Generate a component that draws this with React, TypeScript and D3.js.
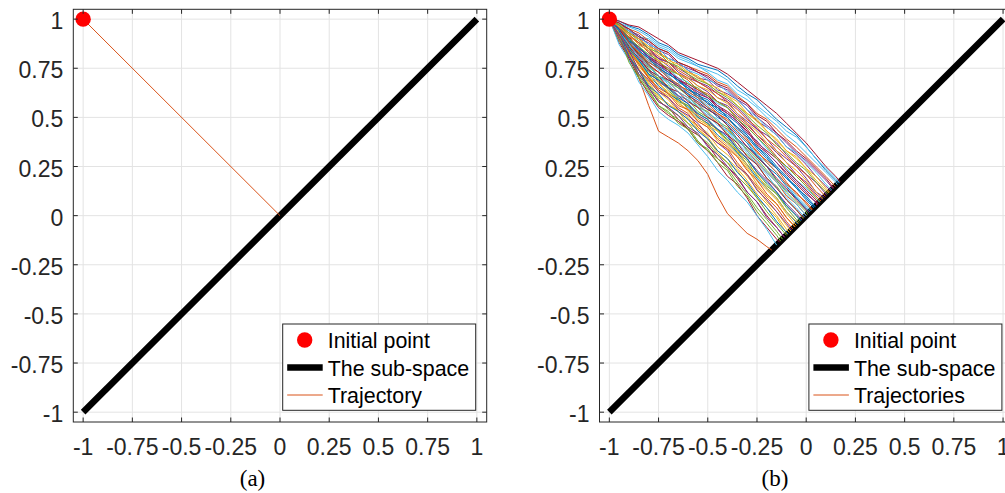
import React from 'react';
import * as d3 from 'd3';

const W = 1005;
const H = 493;

const axisDomain = [-1.05, 1.05];
const tickValues = [-1, -0.75, -0.5, -0.25, 0, 0.25, 0.5, 0.75, 1];
const tickLabels = ['-1', '-0.75', '-0.5', '-0.25', '0', '0.25', '0.5', '0.75', '1'];

const initialPoint = [-1, 1];
const subspaceX = [-1, 1];
const subspaceY = [-1, 1];
const singleTrajX = [-1, 0];
const singleTrajY = [1, 0];

// x stations at which each trajectory's y is read
const stationX = [
  -0.95, -0.9, -0.85, -0.8, -0.75, -0.7, -0.65, -0.6, -0.55, -0.5, -0.45, -0.4,
  -0.35, -0.3, -0.25, -0.2, -0.15, -0.1, -0.05, 0, 0.05, 0.1, 0.15,
];

// where each trajectory reaches the sub-space (x = y)
const trajEnds = [
  0.013, -0.175, -0.095, 0.126, -0.035, 0.068, -0.135, 0.165, 0.032, -0.058,
  0.093, -0.015, 0.158, -0.11, 0.046, 0.0, -0.078, 0.104, -0.03, -0.15,
  0.06, 0.019, 0.148, -0.05, 0.082, -0.1, -0.008, 0.172, 0.039, -0.068,
  0.115, -0.022, -0.12, 0.168, 0.053, -0.043, 0.075, -0.085, 0.137, 0.006,
  0.025,
  0.015, -0.093, 0.098, -0.04, 0.057, -0.13, 0.13, -0.012, 0.043, -0.056,
  0.119, -0.11, 0.071, 0.0, 0.14, -0.026, 0.029, 0.086, -0.074, 0.109,
];

const trajYs = [
  [0.95, 0.88, 0.84, 0.76, 0.71, 0.69, 0.67, 0.62, 0.57, 0.54, 0.51, 0.46, 0.39, 0.35, 0.31, 0.25, 0.18, 0.13, 0.09, 0.03],
  [0.93, 0.83, 0.70, 0.56, 0.43, 0.40, 0.37, 0.33, 0.28, 0.21, 0.10, 0.01, -0.04, -0.09, -0.12, -0.158],
  [0.92, 0.81, 0.75, 0.67, 0.60, 0.57, 0.53, 0.47, 0.44, 0.39, 0.32, 0.27, 0.23, 0.16, 0.09, 0.04, -0.01, -0.09],
  [0.97, 0.94, 0.92, 0.87, 0.83, 0.80, 0.78, 0.74, 0.70, 0.69, 0.64, 0.62, 0.59, 0.54, 0.48, 0.45, 0.41, 0.35, 0.31, 0.26, 0.20, 0.15],
  [0.94, 0.86, 0.77, 0.72, 0.69, 0.64, 0.58, 0.56, 0.50, 0.47, 0.44, 0.38, 0.32, 0.28, 0.20, 0.15, 0.11, 0.04, -0.02],
  [0.96, 0.90, 0.85, 0.82, 0.77, 0.75, 0.70, 0.68, 0.63, 0.61, 0.57, 0.55, 0.49, 0.45, 0.40, 0.34, 0.30, 0.24, 0.18, 0.14, 0.09],
  [0.88, 0.80, 0.70, 0.62, 0.55, 0.51, 0.48, 0.44, 0.37, 0.33, 0.27, 0.20, 0.16, 0.09, 0.00, -0.06, -0.12],
  [0.99, 0.965, 0.95, 0.92, 0.88, 0.86, 0.82, 0.80, 0.77, 0.755, 0.74, 0.705, 0.66, 0.62, 0.59, 0.54, 0.49, 0.45, 0.41, 0.35, 0.29, 0.23, 0.18],
  [0.95, 0.89, 0.83, 0.79, 0.76, 0.71, 0.66, 0.64, 0.61, 0.57, 0.52, 0.49, 0.45, 0.39, 0.32, 0.28, 0.24, 0.17, 0.11, 0.07],
  [0.93, 0.83, 0.78, 0.71, 0.64, 0.61, 0.58, 0.53, 0.48, 0.45, 0.38, 0.34, 0.30, 0.24, 0.16, 0.10, 0.06, -0.01],
  [0.97, 0.92, 0.87, 0.84, 0.80, 0.78, 0.73, 0.70, 0.68, 0.65, 0.60, 0.58, 0.52, 0.48, 0.44, 0.39, 0.33, 0.29, 0.25, 0.19, 0.12],
  [0.94, 0.86, 0.82, 0.75, 0.69, 0.66, 0.61, 0.59, 0.53, 0.50, 0.47, 0.42, 0.35, 0.31, 0.26, 0.19, 0.15, 0.08, 0.03],
  [0.98, 0.95, 0.91, 0.90, 0.86, 0.84, 0.80, 0.78, 0.76, 0.73, 0.69, 0.67, 0.62, 0.59, 0.55, 0.50, 0.46, 0.41, 0.37, 0.32, 0.27, 0.22, 0.17],
  [0.90, 0.79, 0.74, 0.65, 0.58, 0.55, 0.49, 0.44, 0.41, 0.36, 0.29, 0.25, 0.19, 0.12, 0.07, 0.00, -0.06],
  [0.96, 0.89, 0.86, 0.81, 0.76, 0.73, 0.68, 0.65, 0.61, 0.59, 0.54, 0.51, 0.47, 0.41, 0.35, 0.31, 0.25, 0.20, 0.14, 0.10],
  [0.93, 0.88, 0.81, 0.76, 0.73, 0.68, 0.63, 0.60, 0.57, 0.52, 0.47, 0.44, 0.39, 0.33, 0.27, 0.22, 0.17, 0.10, 0.06],
  [0.90, 0.82, 0.74, 0.69, 0.63, 0.59, 0.53, 0.49, 0.46, 0.42, 0.35, 0.31, 0.26, 0.20, 0.14, 0.07, 0.02, -0.05],
  [0.97, 0.93, 0.90, 0.85, 0.80, 0.78, 0.75, 0.72, 0.68, 0.66, 0.62, 0.59, 0.55, 0.50, 0.44, 0.41, 0.37, 0.31, 0.26, 0.21, 0.17, 0.11],
  [0.91, 0.85, 0.80, 0.73, 0.70, 0.65, 0.59, 0.56, 0.52, 0.49, 0.43, 0.39, 0.33, 0.29, 0.22, 0.16, 0.11, 0.05, 0.00],
  [0.87, 0.79, 0.68, 0.61, 0.53, 0.49, 0.46, 0.42, 0.36, 0.30, 0.23, 0.18, 0.12, 0.07, 0.00, -0.07],
  [0.95, 0.91, 0.85, 0.81, 0.78, 0.74, 0.69, 0.67, 0.64, 0.61, 0.56, 0.53, 0.49, 0.44, 0.37, 0.33, 0.29, 0.23, 0.18, 0.13, 0.08],
  [0.94, 0.89, 0.82, 0.78, 0.75, 0.70, 0.65, 0.62, 0.59, 0.55, 0.50, 0.47, 0.42, 0.37, 0.30, 0.25, 0.21, 0.15, 0.09, 0.04],
  [0.97, 0.95, 0.93, 0.89, 0.85, 0.83, 0.78, 0.76, 0.74, 0.72, 0.68, 0.66, 0.61, 0.57, 0.52, 0.49, 0.44, 0.39, 0.35, 0.30, 0.25, 0.20],
  [0.92, 0.85, 0.76, 0.70, 0.67, 0.63, 0.57, 0.54, 0.49, 0.46, 0.40, 0.36, 0.31, 0.25, 0.18, 0.13, 0.08, 0.01],
  [0.96, 0.92, 0.88, 0.83, 0.80, 0.76, 0.72, 0.70, 0.66, 0.63, 0.58, 0.56, 0.51, 0.47, 0.41, 0.37, 0.32, 0.27, 0.21, 0.17, 0.11],
  [0.91, 0.82, 0.72, 0.66, 0.59, 0.54, 0.51, 0.47, 0.41, 0.37, 0.31, 0.27, 0.20, 0.15, 0.09, 0.02, -0.04],
  [0.93, 0.87, 0.79, 0.74, 0.71, 0.67, 0.61, 0.59, 0.55, 0.51, 0.46, 0.43, 0.37, 0.32, 0.26, 0.21, 0.14, 0.09, 0.04],
  [0.99, 0.97, 0.96, 0.93, 0.90, 0.87, 0.83, 0.81, 0.79, 0.77, 0.75, 0.72, 0.68, 0.64, 0.60, 0.56, 0.52, 0.47, 0.42, 0.37, 0.31, 0.25, 0.20],
  [0.94, 0.90, 0.86, 0.80, 0.75, 0.72, 0.69, 0.65, 0.60, 0.58, 0.53, 0.50, 0.44, 0.40, 0.34, 0.29, 0.24, 0.19, 0.14, 0.08],
  [0.91, 0.84, 0.78, 0.70, 0.64, 0.60, 0.55, 0.52, 0.45, 0.41, 0.37, 0.34, 0.27, 0.21, 0.15, 0.09, 0.04, -0.03],
  [0.96, 0.93, 0.90, 0.86, 0.82, 0.80, 0.75, 0.73, 0.70, 0.67, 0.63, 0.61, 0.56, 0.52, 0.48, 0.43, 0.38, 0.33, 0.29, 0.24, 0.18, 0.13],
  [0.95, 0.87, 0.81, 0.74, 0.68, 0.65, 0.61, 0.57, 0.51, 0.48, 0.44, 0.41, 0.34, 0.29, 0.23, 0.18, 0.12, 0.06, 0.01],
  [0.89, 0.81, 0.71, 0.64, 0.56, 0.52, 0.49, 0.45, 0.38, 0.33, 0.29, 0.24, 0.17, 0.11, 0.04, -0.02, -0.08],
  [0.98, 0.96, 0.94, 0.91, 0.87, 0.85, 0.81, 0.79, 0.76, 0.74, 0.72, 0.69, 0.64, 0.61, 0.56, 0.52, 0.48, 0.43, 0.40, 0.35, 0.29, 0.24, 0.19],
  [0.96, 0.90, 0.84, 0.80, 0.77, 0.74, 0.69, 0.66, 0.62, 0.60, 0.55, 0.52, 0.48, 0.43, 0.36, 0.32, 0.27, 0.21, 0.16, 0.11, 0.07],
  [0.92, 0.84, 0.79, 0.72, 0.66, 0.62, 0.59, 0.55, 0.50, 0.47, 0.41, 0.37, 0.32, 0.26, 0.19, 0.14, 0.09, 0.02],
  [0.95, 0.91, 0.88, 0.83, 0.78, 0.75, 0.72, 0.69, 0.64, 0.62, 0.58, 0.55, 0.50, 0.46, 0.41, 0.36, 0.30, 0.25, 0.21, 0.16, 0.10],
  [0.90, 0.83, 0.74, 0.68, 0.61, 0.56, 0.54, 0.50, 0.44, 0.40, 0.33, 0.29, 0.24, 0.18, 0.11, 0.06, 0.00, -0.07],
  [0.98, 0.94, 0.90, 0.88, 0.84, 0.82, 0.77, 0.75, 0.73, 0.70, 0.66, 0.64, 0.59, 0.56, 0.50, 0.46, 0.42, 0.37, 0.32, 0.28, 0.23, 0.18],
  [0.94, 0.87, 0.83, 0.77, 0.71, 0.68, 0.65, 0.61, 0.55, 0.53, 0.48, 0.45, 0.38, 0.34, 0.29, 0.23, 0.18, 0.12, 0.07, 0.02],
  [0.93, 0.88, 0.84, 0.79, 0.74, 0.71, 0.66, 0.63, 0.60, 0.56, 0.51, 0.48, 0.43, 0.38, 0.31, 0.27, 0.22, 0.16, 0.10, 0.05],
  [0.95, 0.88, 0.82, 0.77, 0.73, 0.69, 0.66, 0.61, 0.58, 0.54, 0.51, 0.46, 0.41, 0.35, 0.30, 0.25, 0.19, 0.14, 0.08, 0.03],
  [0.93, 0.81, 0.74, 0.66, 0.62, 0.56, 0.53, 0.49, 0.43, 0.39, 0.33, 0.29, 0.22, 0.17, 0.10, 0.04, -0.03, -0.085],
  [0.97, 0.92, 0.88, 0.85, 0.81, 0.78, 0.74, 0.71, 0.68, 0.65, 0.62, 0.58, 0.54, 0.49, 0.45, 0.39, 0.35, 0.30, 0.25, 0.21, 0.15],
  [0.93, 0.85, 0.78, 0.71, 0.68, 0.62, 0.60, 0.54, 0.51, 0.46, 0.43, 0.37, 0.33, 0.26, 0.21, 0.14, 0.09, 0.02, -0.03],
  [0.96, 0.90, 0.85, 0.81, 0.77, 0.73, 0.70, 0.66, 0.63, 0.60, 0.56, 0.52, 0.48, 0.42, 0.38, 0.32, 0.27, 0.22, 0.17, 0.12, 0.065],
  [0.92, 0.78, 0.70, 0.63, 0.56, 0.53, 0.47, 0.44, 0.37, 0.34, 0.27, 0.23, 0.15, 0.10, 0.02, -0.04, -0.10],
  [0.97, 0.94, 0.91, 0.87, 0.85, 0.80, 0.78, 0.74, 0.72, 0.69, 0.67, 0.63, 0.59, 0.54, 0.50, 0.45, 0.41, 0.35, 0.32, 0.27, 0.22, 0.16],
  [0.95, 0.86, 0.80, 0.74, 0.71, 0.65, 0.63, 0.58, 0.55, 0.50, 0.47, 0.41, 0.37, 0.30, 0.26, 0.19, 0.14, 0.08, 0.03],
  [0.95, 0.90, 0.84, 0.80, 0.75, 0.72, 0.69, 0.64, 0.62, 0.57, 0.55, 0.50, 0.45, 0.41, 0.35, 0.30, 0.24, 0.19, 0.15, 0.09],
  [0.94, 0.83, 0.77, 0.70, 0.65, 0.62, 0.56, 0.54, 0.48, 0.45, 0.39, 0.35, 0.30, 0.23, 0.18, 0.11, 0.06, -0.01],
  [0.98, 0.93, 0.90, 0.86, 0.84, 0.79, 0.77, 0.73, 0.71, 0.67, 0.65, 0.61, 0.58, 0.52, 0.49, 0.43, 0.39, 0.33, 0.30, 0.24, 0.20, 0.14],
  [0.90, 0.81, 0.72, 0.65, 0.58, 0.55, 0.51, 0.45, 0.42, 0.35, 0.31, 0.25, 0.20, 0.12, 0.07, -0.01, -0.06],
  [0.97, 0.90, 0.86, 0.82, 0.79, 0.74, 0.72, 0.67, 0.65, 0.61, 0.58, 0.55, 0.49, 0.45, 0.40, 0.35, 0.29, 0.25, 0.20, 0.15, 0.09],
  [0.94, 0.87, 0.81, 0.76, 0.71, 0.68, 0.63, 0.60, 0.56, 0.52, 0.49, 0.43, 0.39, 0.33, 0.28, 0.22, 0.17, 0.11, 0.06],
  [0.98, 0.95, 0.91, 0.89, 0.85, 0.83, 0.78, 0.76, 0.73, 0.71, 0.67, 0.65, 0.60, 0.57, 0.51, 0.48, 0.42, 0.38, 0.33, 0.29, 0.24, 0.19],
  [0.94, 0.85, 0.79, 0.72, 0.69, 0.65, 0.60, 0.57, 0.52, 0.49, 0.44, 0.40, 0.34, 0.29, 0.22, 0.17, 0.12, 0.05, 0.00],
  [0.96, 0.88, 0.83, 0.78, 0.75, 0.70, 0.67, 0.63, 0.60, 0.55, 0.52, 0.48, 0.43, 0.38, 0.33, 0.27, 0.22, 0.16, 0.12, 0.06],
  [0.96, 0.92, 0.87, 0.84, 0.79, 0.77, 0.72, 0.70, 0.66, 0.64, 0.60, 0.57, 0.52, 0.47, 0.43, 0.37, 0.33, 0.27, 0.23, 0.18, 0.12],
  [0.92, 0.84, 0.74, 0.69, 0.63, 0.60, 0.54, 0.51, 0.47, 0.41, 0.37, 0.33, 0.25, 0.21, 0.13, 0.08, 0.02, -0.04],
  [0.97, 0.93, 0.89, 0.85, 0.83, 0.78, 0.76, 0.72, 0.69, 0.67, 0.63, 0.60, 0.56, 0.51, 0.46, 0.42, 0.36, 0.32, 0.27, 0.23, 0.17, 0.12],
];

const palette = ['#0072BD', '#D95319', '#EDB120', '#7E2F8E', '#77AC30', '#4DBEEE', '#A2142F'];

const legendA = ['Initial point', 'The sub-space', 'Trajectory'];
const legendB = ['Initial point', 'The sub-space', 'Trajectories'];
const captions = ['(a)', '(b)'];

const SANS = '"Liberation Sans", Arial, Helvetica, sans-serif';
const SERIF = '"Liberation Serif", "Times New Roman", serif';
const AX = '#262626';

type PanelProps = {
  id: string;
  left: number;
  caption: string;
  captionX: number;
  legend: string[];
  multi: boolean;
};

function Panel({ id, left, caption, captionX, legend, multi }: PanelProps) {
  const top = 9.3;
  const bottom = 422;
  const width = 413.4;
  const right = left + width;
  const x = d3.scaleLinear().domain(axisDomain).range([left, right]);
  const y = d3.scaleLinear().domain(axisDomain).range([bottom, top]);
  const line = d3.line<[number, number]>().x((d) => x(d[0])).y((d) => y(d[1]));

  const trajectories: [number, number][][] = multi
    ? trajYs.map((ys, i) => {
        const pts: [number, number][] = [[initialPoint[0], initialPoint[1]]];
        ys.forEach((v, k) => pts.push([stationX[k], v]));
        pts.push([trajEnds[i], trajEnds[i]]);
        return pts;
      })
    : [[[singleTrajX[0], singleTrajY[0]], [singleTrajX[1], singleTrajY[1]]]];

  const legW = 193;
  const legRight = right - 11;
  const legLeft = legRight - legW;
  const legTop = 324;
  const legBottom = 410.3;
  const rowY = [340, 367.5, 395];

  return (
    <g>
      <defs>
        <clipPath id={id}>
          <rect x={left} y={top} width={width} height={bottom - top} />
        </clipPath>
      </defs>
      <rect x={left} y={top} width={width} height={bottom - top} fill="#fff" />
      {tickValues.map((t) => (
        <g key={'g' + t}>
          <line x1={x(t)} x2={x(t)} y1={top} y2={bottom} stroke="#e3e3e3" strokeWidth={1} />
          <line x1={left} x2={right} y1={y(t)} y2={y(t)} stroke="#e3e3e3" strokeWidth={1} />
        </g>
      ))}
      <g clipPath={`url(#${id})`}>
        <path
          d={line([[subspaceX[0], subspaceY[0]], [subspaceX[1], subspaceY[1]]]) || ''}
          stroke="#000"
          strokeWidth={6.5}
          fill="none"
        />
        {trajectories.map((pts, i) => (
          <path
            key={i}
            d={line(pts) || ''}
            fill="none"
            stroke={multi ? palette[i % palette.length] : palette[1]}
            strokeWidth={1}
            strokeLinejoin="round"
          />
        ))}
        <circle cx={x(initialPoint[0])} cy={y(initialPoint[1])} r={7.7} fill="#ff0000" />
      </g>
      {tickValues.map((t) => (
        <g key={'t' + t} stroke={AX} strokeWidth={1}>
          <line x1={x(t)} x2={x(t)} y1={bottom} y2={bottom - 4.5} />
          <line x1={x(t)} x2={x(t)} y1={top} y2={top + 4.5} />
          <line x1={left} x2={left + 4.5} y1={y(t)} y2={y(t)} />
          <line x1={right} x2={right - 4.5} y1={y(t)} y2={y(t)} />
        </g>
      ))}
      <rect x={left} y={top} width={width} height={bottom - top} fill="none" stroke={AX} strokeWidth={1} />
      {tickValues.map((t, i) => (
        <text key={'xl' + t} x={x(t)} y={455} textAnchor="middle" fontFamily={SANS} fontSize={23} fill={AX}>
          {tickLabels[i]}
        </text>
      ))}
      {tickValues.map((t, i) => (
        <text key={'yl' + t} x={left - 10} y={y(t) + 10} textAnchor="end" fontFamily={SANS} fontSize={23} fill={AX}>
          {tickLabels[i]}
        </text>
      ))}
      <rect x={legLeft} y={legTop} width={legW} height={legBottom - legTop} fill="#fff" stroke={AX} strokeWidth={1} />
      <circle cx={legLeft + 22} cy={rowY[0]} r={7.7} fill="#ff0000" />
      <line x1={legLeft + 4.5} x2={legLeft + 40} y1={rowY[1]} y2={rowY[1]} stroke="#000" strokeWidth={6.5} />
      <line x1={legLeft + 4.5} x2={legLeft + 40} y1={rowY[2]} y2={rowY[2]} stroke={palette[1]} strokeWidth={1} />
      {legend.map((s, i) => (
        <text key={s} x={legLeft + 45} y={rowY[i] + 8} fontFamily={SANS} fontSize={21.4} fill="#000">
          {s}
        </text>
      ))}
      <text x={captionX} y={485.5} textAnchor="middle" fontFamily={SERIF} fontSize={23} fill="#000">
        {caption}
      </text>
    </g>
  );
}

export default function App() {
  return (
    <svg
      width={W}
      height={H}
      viewBox={`0 0 ${W} ${H}`}
      style={{ position: 'absolute', left: 0, top: 0, background: '#fff' }}
    >
      <rect x={0} y={0} width={W} height={H} fill="#fff" />
      <Panel id="clipA" left={73.3} caption={captions[0]} captionX={252.5} legend={legendA} multi={false} />
      <Panel id="clipB" left={599.5} caption={captions[1]} captionX={775} legend={legendB} multi={true} />
    </svg>
  );
}
